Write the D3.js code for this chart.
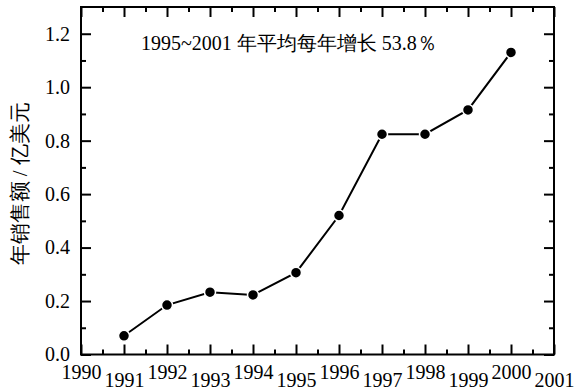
<!DOCTYPE html>
<html><head><meta charset="utf-8">
<script src="https://cdn.jsdelivr.net/npm/d3@7"></script>
<style>
html,body{margin:0;padding:0;background:#fff;}
</style></head>
<body><svg id="c" width="574" height="392"></svg>
<script>
const years = [1991,1992,1993,1994,1995,1996,1997,1998,1999,2000];
const sales = [0.07,0.185,0.233,0.223,0.306,0.52,0.824,0.824,0.915,1.13];
const xTickLabels = [1990,1991,1992,1993,1994,1995,1996,1997,1998,1999,2000,2001];
const yTickLabels = ["0.0","0.2","0.4","0.6","0.8","1.0","1.2"];
const yTitle = "年销售额 / 亿美元";
const note = "1995~2001 年平均每年增长 53.8％";

const FONT = "'Liberation Serif'";
const svg = d3.select("#c");
const m = {l:81, r:20, t:7, b:37.5};
const W = 574, H = 392;
const x = d3.scaleLinear().domain([1990,2001]).range([m.l, W-m.r]);
const y = d3.scaleLinear().domain([0,1.3]).range([H-m.b, m.t]);

const majX = xTickLabels;
const minX = d3.range(1990.5, 2001, 1);
const majY = yTickLabels.map(Number);
const minY = d3.range(0.1, 1.3, 0.2);

function styleAxis(g){
  g.attr("font-family", null);
  g.select(".domain").remove();
  g.selectAll("line").attr("stroke","#000").attr("stroke-width",2);
}
// bottom
svg.append("g").attr("transform",`translate(0,${y(0)})`)
  .call(d3.axisBottom(x).tickValues(majX).tickSize(-10).tickPadding(6).tickFormat(d3.format("d")))
  .call(styleAxis)
  .call(g=>g.selectAll("text").style("font-family",FONT).attr("font-size",20)
     .attr("y",(d,i)=> i%2 ? 32 : 24.5).attr("dy","0"));
svg.append("g").attr("transform",`translate(0,${y(0)})`)
  .call(d3.axisBottom(x).tickValues(minX).tickSize(-5).tickFormat("")).call(styleAxis);
// top
svg.append("g").attr("transform",`translate(0,${y(1.3)})`)
  .call(d3.axisTop(x).tickValues(majX).tickSize(-10).tickFormat("")).call(styleAxis);
svg.append("g").attr("transform",`translate(0,${y(1.3)})`)
  .call(d3.axisTop(x).tickValues(minX).tickSize(-5).tickFormat("")).call(styleAxis);
// left
svg.append("g").attr("transform",`translate(${x(1990)},0)`)
  .call(d3.axisLeft(y).tickValues(majY).tickSize(-10).tickPadding(11).tickFormat(d3.format(".1f")))
  .call(styleAxis)
  .call(g=>g.selectAll("text").style("font-family",FONT).attr("font-size",20));
svg.append("g").attr("transform",`translate(${x(1990)},0)`)
  .call(d3.axisLeft(y).tickValues(minY).tickSize(-5).tickFormat("")).call(styleAxis);
// right
svg.append("g").attr("transform",`translate(${x(2001)},0)`)
  .call(d3.axisRight(y).tickValues(majY).tickSize(-10).tickFormat("")).call(styleAxis);
svg.append("g").attr("transform",`translate(${x(2001)},0)`)
  .call(d3.axisRight(y).tickValues(minY).tickSize(-5).tickFormat("")).call(styleAxis);

// frame
svg.append("rect").attr("x",x(1990)).attr("y",y(1.3))
  .attr("width",x(2001)-x(1990)).attr("height",y(0)-y(1.3))
  .attr("fill","none").attr("stroke","#000").attr("stroke-width",2);

// line
const data = years.map((d,i)=>({yr:d, v:sales[i]}));
svg.append("path").datum(data)
  .attr("fill","none").attr("stroke","#000").attr("stroke-width",2)
  .attr("d", d3.line().x(d=>x(d.yr)).y(d=>y(d.v)));
svg.selectAll("circle.p").data(data).join("circle")
  .attr("cx",d=>x(d.yr)).attr("cy",d=>y(d.v)).attr("r",5.5)
  .attr("fill","#000").attr("stroke","#fff").attr("stroke-width",1.5);

// y title
svg.append("text").attr("transform",`translate(27,${(y(0)+y(1.3))/2 + 3}) rotate(-90)`)
  .style("font-family",FONT).attr("fill","#000")
  .attr("text-anchor","middle").attr("font-size",21).text(yTitle);

// note
svg.append("text").attr("x",141).attr("y",49.5).style("font-family",FONT)
  .attr("fill","#000").attr("font-size",20).text(note);
</script></body></html>
